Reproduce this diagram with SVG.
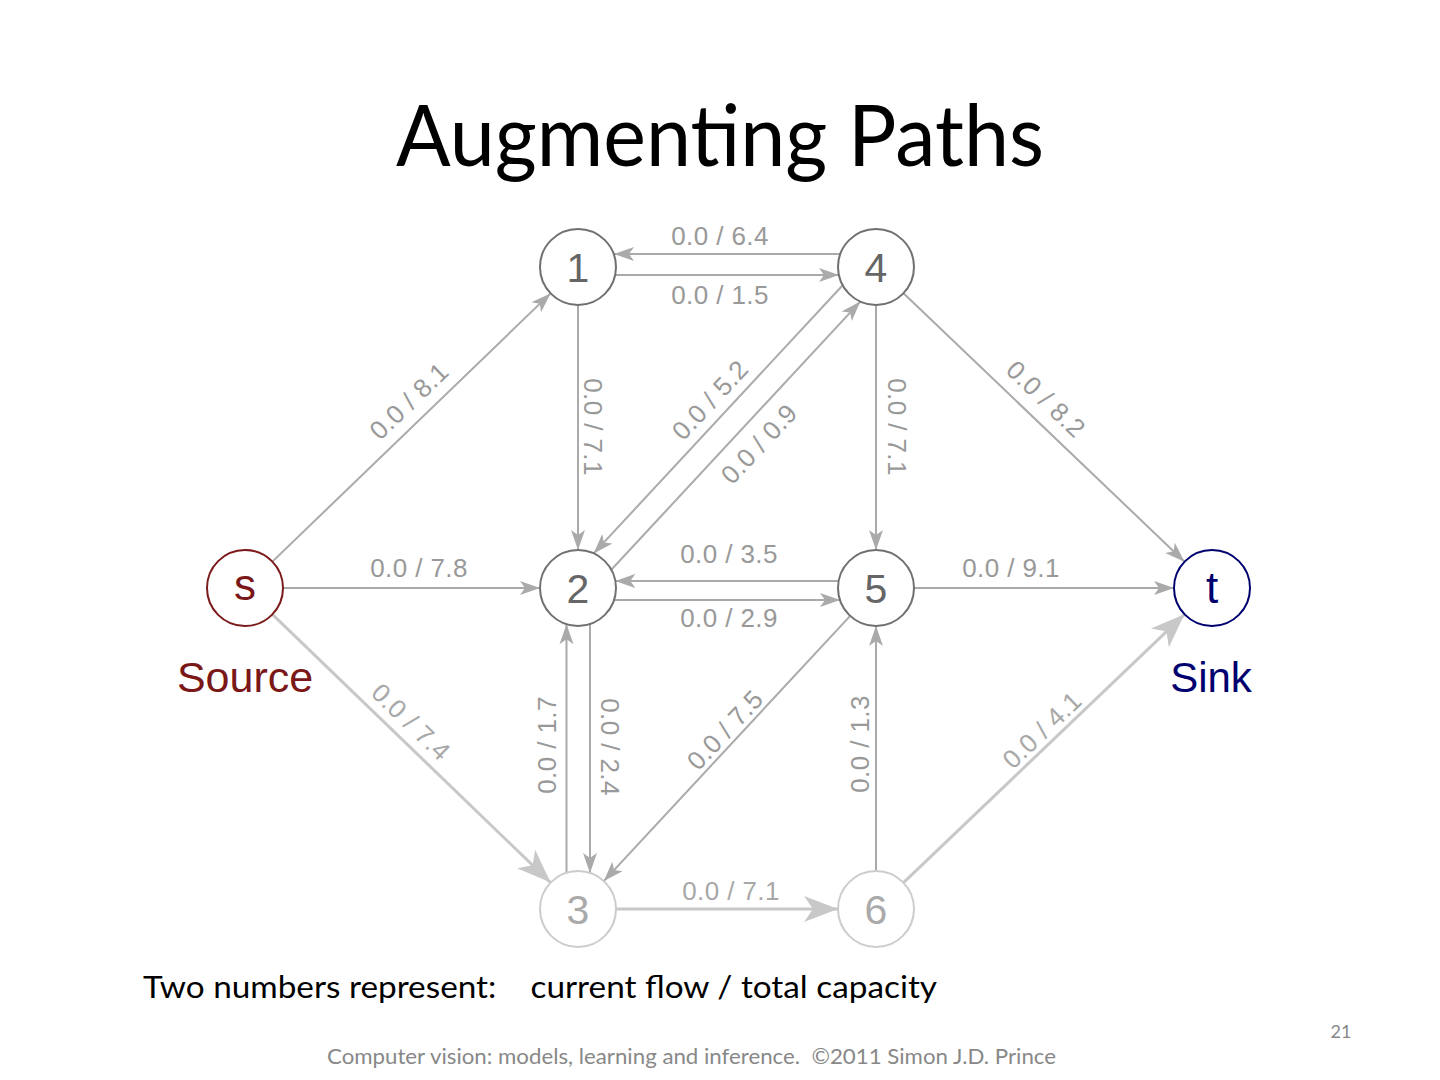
<svg xmlns="http://www.w3.org/2000/svg" width="1440" height="1080" viewBox="0 0 1440 1080">
<style>
.e{stroke:#aaaaaa;stroke-width:2;fill:none;marker-end:url(#ah)}
.el{stroke:#c8c8c8;stroke-width:3;fill:none;marker-end:url(#ahl)}
.lb{font-family:"Liberation Sans",Arial,sans-serif;font-size:26px;fill:#999999;text-anchor:middle;letter-spacing:0.4px}
.lbl{fill:#a8a8a8}
.nc{fill:#ffffff;stroke:#707070;stroke-width:2}
.nt{font-family:"Liberation Sans",Arial,sans-serif;font-size:41px;fill:#666666;text-anchor:middle}
.ncl{fill:#ffffff;stroke:#cccccc;stroke-width:2}
.ntl{font-family:"Liberation Sans",Arial,sans-serif;font-size:41px;fill:#aaaaaa;text-anchor:middle}
.cal{font-family:Lato,"Open Sans",sans-serif}
</style>
<defs>
<marker id="ah" markerUnits="userSpaceOnUse" viewBox="0 0 20 16" refX="20" refY="8" markerWidth="20" markerHeight="16" orient="auto">
<path d="M0,1 L20,8 L0,15 L5,8 Z" fill="#aaaaaa"/>
</marker>
<marker id="ahl" markerUnits="userSpaceOnUse" viewBox="0 0 34 28" refX="34" refY="14" markerWidth="34" markerHeight="28" orient="auto">
<path d="M0,1 L34,14 L0,27 L9,14 Z" fill="#c8c8c8"/>
</marker>
</defs>
<rect width="1440" height="1080" fill="#ffffff"/>
<text class="cal" x="720" y="166" font-size="86" text-anchor="middle" fill="#000000" textLength="648" lengthAdjust="spacingAndGlyphs">Augmenting Paths</text>

<g id="connectors">
<line class="e" x1="840" y1="254" x2="614" y2="254"/>
<line class="e" x1="615" y1="275" x2="839" y2="275"/>
<line class="e" x1="272.4" y1="561.6" x2="550.6" y2="293.4"/>
<line class="e" x1="283" y1="588" x2="540" y2="588"/>
<line class="el" x1="272.4" y1="614.4" x2="550.6" y2="882.6"/>
<line class="e" x1="578" y1="305" x2="578" y2="550"/>
<line class="e" x1="876" y1="305" x2="876" y2="550"/>
<line class="e" x1="842.7" y1="285.2" x2="593.7" y2="553.4"/>
<line class="e" x1="611.3" y1="569.8" x2="860.3" y2="301.6"/>
<line class="e" x1="903.5" y1="293.3" x2="1184.5" y2="561.7"/>
<line class="e" x1="838.7" y1="581" x2="615.3" y2="581"/>
<line class="e" x1="614" y1="600" x2="840" y2="600"/>
<line class="e" x1="914" y1="588" x2="1174" y2="588"/>
<line class="e" x1="566.5" y1="872.8" x2="566.5" y2="624.2"/>
<line class="e" x1="590" y1="624" x2="590" y2="873"/>
<line class="e" x1="850.2" y1="615.9" x2="603.8" y2="881.1"/>
<line class="e" x1="876" y1="871" x2="876" y2="626"/>
<line class="el" x1="616" y1="909" x2="838" y2="909"/>
<line class="el" x1="903.5" y1="882.7" x2="1184.5" y2="614.3"/>
</g>

<g id="edge-labels">
<text class="lb" x="720" y="245">0.0 / 6.4</text>
<text class="lb" x="720" y="304">0.0 / 1.5</text>
<text class="lb" x="419" y="577">0.0 / 7.8</text>
<text class="lb" x="729" y="563">0.0 / 3.5</text>
<text class="lb" x="729" y="627">0.0 / 2.9</text>
<text class="lb" x="1011" y="577">0.0 / 9.1</text>
<text class="lb lbl" x="731" y="900">0.0 / 7.1</text>
<text class="lb" transform="translate(409,401) rotate(-43.9)" y="9">0.0 / 8.1</text>
<text class="lb" transform="translate(593,427) rotate(90)" y="9">0.0 / 7.1</text>
<text class="lb" transform="translate(710,400) rotate(-47)" y="9">0.0 / 5.2</text>
<text class="lb" transform="translate(759,444) rotate(-47)" y="9">0.0 / 0.9</text>
<text class="lb" transform="translate(897,427) rotate(90)" y="9">0.0 / 7.1</text>
<text class="lb" transform="translate(1046,399) rotate(43.7)" y="9">0.0 / 8.2</text>
<text class="lb lbl" transform="translate(411,722) rotate(44)" y="9">0.0 / 7.4</text>
<text class="lb" transform="translate(547,745) rotate(-90)" y="9">0.0 / 1.7</text>
<text class="lb" transform="translate(610,747) rotate(90)" y="9">0.0 / 2.4</text>
<text class="lb" transform="translate(725,730) rotate(-47)" y="9">0.0 / 7.5</text>
<text class="lb" transform="translate(860,744) rotate(-90)" y="9">0.0 / 1.3</text>
<text class="lb lbl" transform="translate(1042,730) rotate(-43.7)" y="9">0.0 / 4.1</text>
</g>

<g id="node-s">
<circle cx="245" cy="588" r="38" fill="#ffffff" stroke="#7a1a1a" stroke-width="2"/>
<text x="245" y="600" font-family="Liberation Sans,Arial,sans-serif" font-size="44" fill="#7a1818" text-anchor="middle">s</text>
<text x="245" y="692" font-family="Liberation Sans,Arial,sans-serif" font-size="43" fill="#7a1818" text-anchor="middle">Source</text>
</g>
<g id="node-t">
<circle cx="1212" cy="588" r="38" fill="#ffffff" stroke="#00006e" stroke-width="2"/>
<text x="1212" y="603" font-family="Liberation Sans,Arial,sans-serif" font-size="44" fill="#00006e" text-anchor="middle">t</text>
<text x="1211" y="692" font-family="Liberation Sans,Arial,sans-serif" font-size="42" fill="#00006e" text-anchor="middle">Sink</text>
</g>
<g id="node-1"><circle class="nc" cx="578" cy="267" r="38"/><text class="nt" x="578" y="282">1</text></g>
<g id="node-4"><circle class="nc" cx="876" cy="267" r="38"/><text class="nt" x="876" y="282">4</text></g>
<g id="node-2"><circle class="nc" cx="578" cy="588" r="38"/><text class="nt" x="578" y="603">2</text></g>
<g id="node-5"><circle class="nc" cx="876" cy="588" r="38"/><text class="nt" x="876" y="603">5</text></g>
<g id="node-3"><circle class="ncl" cx="578" cy="909" r="38"/><text class="ntl" x="578" y="924">3</text></g>
<g id="node-6"><circle class="ncl" cx="876" cy="909" r="38"/><text class="ntl" x="876" y="924">6</text></g>

<text class="cal" x="143" y="998" font-size="31" fill="#000000" textLength="794" lengthAdjust="spacingAndGlyphs" xml:space="preserve">Two numbers represent:    current flow / total capacity</text>
<text class="cal" x="1341" y="1038" font-size="18" fill="#888888" text-anchor="middle">21</text>
<text class="cal" x="327" y="1064" font-size="21" fill="#888888" textLength="729" lengthAdjust="spacingAndGlyphs" xml:space="preserve">Computer vision: models, learning and inference.  ©2011 Simon J.D. Prince</text>
</svg>
